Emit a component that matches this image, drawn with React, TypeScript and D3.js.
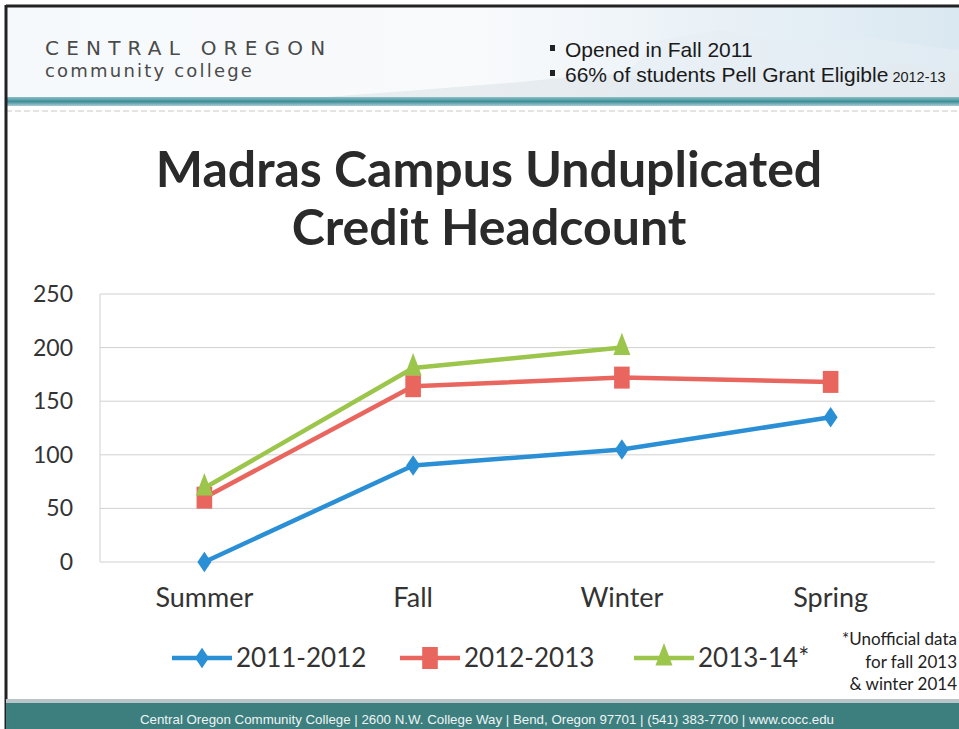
import React, { useEffect, useRef } from 'react';
import * as d3 from 'd3';

const W = 959;
const H = 729;

const terms = ['Summer', 'Fall', 'Winter', 'Spring'];
const yTicks = [0, 50, 100, 150, 200, 250];
const seriesNames = ['2011-2012', '2012-2013', '2013-14*'];
const values2011 = [0, 90, 105, 135];
const values2012 = [60, 164, 172, 168];
const values2013 = [69, 181, 200];
const seriesColors = ['#2a8fd4', '#e8665e', '#9cc54b'];
const seriesShapes = [d3.symbolDiamond2, d3.symbolSquare, d3.symbolTriangle];
const bulletLines = ['Opened in Fall 2011', '66% of students Pell Grant Eligible'];
const noteLines = ['*Unofficial data', 'for fall 2013', '& winter 2014'];

const calibri = "Lato, 'Open Sans', 'DejaVu Sans', sans-serif";

// marker sizes and squash (the scan is a bit narrow horizontally)
const markerSizes = [240, 400, 290];
const markerScale = ['scale(0.72,1.05)', 'scale(0.78,1.1)', 'scale(0.66,1)'];

const App = () => {
  const ref = useRef<SVGSVGElement>(null);

  useEffect(() => {
    const svg = d3.select(ref.current);
    svg.selectAll('*').remove();

    // header background
    const defs = svg.append('defs');
    const hg = defs.append('linearGradient').attr('id', 'hdr').attr('x1', 0).attr('x2', 1);
    hg.append('stop').attr('offset', '0%').attr('stop-color', '#f6f9fb');
    hg.append('stop').attr('offset', '50%').attr('stop-color', '#f8fafc');
    hg.append('stop').attr('offset', '100%').attr('stop-color', '#dae8f1');
    const tg = defs.append('linearGradient').attr('id', 'teal').attr('x1', 0).attr('x2', 0).attr('y1', 0).attr('y2', 1);
    tg.append('stop').attr('offset', '0%').attr('stop-color', '#8cc0c6');
    tg.append('stop').attr('offset', '50%').attr('stop-color', '#3f8f98');
    tg.append('stop').attr('offset', '100%').attr('stop-color', '#a8ccd6');

    svg.append('rect').attr('width', W).attr('height', H).attr('fill', '#ffffff');
    svg.append('rect').attr('x', 6).attr('y', 7).attr('width', W - 6).attr('height', 92).attr('fill', 'url(#hdr)');
    // faint mountains
    svg.append('path')
      .attr('d', 'M300,99 L420,90 L520,82 L600,74 L680,79 L760,70 L830,76 L900,64 L959,72 L959,99 Z')
      .attr('fill', '#e1e7eb').attr('opacity', 0.7);
    svg.append('path')
      .attr('d', 'M600,99 L660,40 L720,30 L800,45 L870,38 L959,50 L959,99 Z')
      .attr('fill', '#e6eef4').attr('opacity', 0.5);
    svg.append('rect').attr('x', 6).attr('y', 97).attr('width', W - 6).attr('height', 9).attr('fill', 'url(#teal)');
    svg.append('line').attr('x1', 6).attr('x2', W).attr('y1', 111).attr('y2', 111)
      .attr('stroke', '#c8c8c8').attr('stroke-dasharray', '6,3');

    // borders
    svg.append('line').attr('x1', 6).attr('x2', W).attr('y1', 6).attr('y2', 6).attr('stroke', '#222').attr('stroke-width', 3);
    svg.append('line').attr('x1', 6).attr('x2', 6).attr('y1', 5).attr('y2', H).attr('stroke', '#222').attr('stroke-width', 3);

    // footer
    svg.append('rect').attr('x', 6).attr('y', 699).attr('width', W - 6).attr('height', 4).attr('fill', '#b9c4c8');
    svg.append('rect').attr('x', 6).attr('y', 703).attr('width', W - 6).attr('height', 26).attr('fill', '#3d7f7f');
    svg.append('text').attr('x', 487).attr('y', 724).attr('text-anchor', 'middle')
      .attr('font-family', "'Liberation Sans', Arial, sans-serif").attr('font-size', 13.3).attr('fill', '#eef4f4')
      .text('Central Oregon Community College | 2600 N.W. College Way | Bend, Oregon 97701 | (541) 383-7700 | www.cocc.edu');

    // logo
    svg.append('text').attr('x', 45).attr('y', 55).attr('font-family', "'DejaVu Sans', sans-serif")
      .attr('font-size', 20).attr('letter-spacing', 7.2).attr('fill', '#4a4a4a').text('CENTRAL OREGON');
    svg.append('text').attr('x', 45).attr('y', 77).attr('font-family', "'DejaVu Sans', sans-serif")
      .attr('font-size', 18).attr('letter-spacing', 2.2).attr('fill', '#4a4a4a').text('community college');

    // bullets
    bulletLines.forEach((t, i) => {
      const y = 57 + i * 25;
      svg.append('rect').attr('x', 550).attr('y', y - 12).attr('width', 5).attr('height', 6).attr('fill', '#222');
      const tx = svg.append('text').attr('x', 565).attr('y', y)
        .attr('font-family', "'Liberation Sans', Arial, sans-serif").attr('font-size', 21).attr('fill', '#1a1a1a').text(t);
      if (i === 1) tx.append('tspan').attr('font-size', 14.5).text(' 2012-13');
    });

    // title
    ['Madras Campus Unduplicated', 'Credit Headcount'].forEach((t, i) => {
      svg.append('text').attr('x', 489).attr('y', 187 + i * 58).attr('text-anchor', 'middle')
        .attr('font-family', calibri).attr('font-weight', 700).attr('font-size', 50)
        .attr('fill', '#2a2a2a').text(t);
    });

    // chart
    const x = d3.scaleBand().domain(terms).range([100, 935]);
    const y = d3.scaleLinear().domain([0, 250]).range([562, 294]);

    const grid = svg.append('g');
    grid.selectAll('line').data(yTicks).join('line')
      .attr('x1', 100).attr('x2', 935).attr('y1', d => y(d)).attr('y2', d => y(d))
      .attr('stroke', '#d0d0d0').attr('stroke-width', 1);
    grid.append('line').attr('x1', 100).attr('x2', 100).attr('y1', y(250)).attr('y2', y(0))
      .attr('stroke', '#d0d0d0');

    svg.append('g').selectAll('text').data(yTicks).join('text')
      .attr('x', 73).attr('y', d => y(d) + 8).attr('text-anchor', 'end')
      .attr('font-family', calibri).attr('font-size', 23).attr('fill', '#333').text(d => d);

    svg.append('g').selectAll('text').data(terms).join('text')
      .attr('x', d => x(d)! + x.bandwidth() / 2).attr('y', 607).attr('text-anchor', 'middle')
      .attr('font-family', calibri).attr('font-size', 27).attr('fill', '#333').text(d => d);

    const allSeries = [values2011, values2012, values2013];
    const line = d3.line<number>()
      .x((_, i) => x(terms[i])! + x.bandwidth() / 2)
      .y(d => y(d));

    allSeries.forEach((vals, si) => {
      svg.append('path').attr('d', line(vals)!).attr('fill', 'none')
        .attr('stroke', seriesColors[si]).attr('stroke-width', 4.5).attr('stroke-linejoin', 'round');
      svg.append('g').selectAll('path').data(vals).join('path')
        .attr('transform', (d, i) => `translate(${x(terms[i])! + x.bandwidth() / 2},${y(d)}) ${markerScale[si]}`)
        .attr('d', d3.symbol().type(seriesShapes[si]).size(markerSizes[si])())
        .attr('fill', seriesColors[si]);
    });

    // legend
    const legendX = [172, 400, 634];
    seriesNames.forEach((name, si) => {
      const lx = legendX[si];
      svg.append('line').attr('x1', lx).attr('x2', lx + 60).attr('y1', 658).attr('y2', 658)
        .attr('stroke', seriesColors[si]).attr('stroke-width', 4.5);
      svg.append('path').attr('transform', `translate(${lx + 30},658) ${markerScale[si]}`)
        .attr('d', d3.symbol().type(seriesShapes[si]).size(markerSizes[si])())
        .attr('fill', seriesColors[si]);
      svg.append('text').attr('x', lx + 64).attr('y', 667)
        .attr('font-family', calibri).attr('font-size', 26).attr('fill', '#333').text(name);
    });

    noteLines.forEach((t, i) => {
      svg.append('text').attr('x', 957).attr('y', 645 + i * 22.5).attr('text-anchor', 'end')
        .attr('font-family', calibri).attr('font-size', 17).attr('fill', '#222').text(t);
    });
  }, []);

  return (
    <svg ref={ref} width={W} height={H} style={{ position: 'absolute', left: 0, top: 0 }} />
  );
};

export default App;
